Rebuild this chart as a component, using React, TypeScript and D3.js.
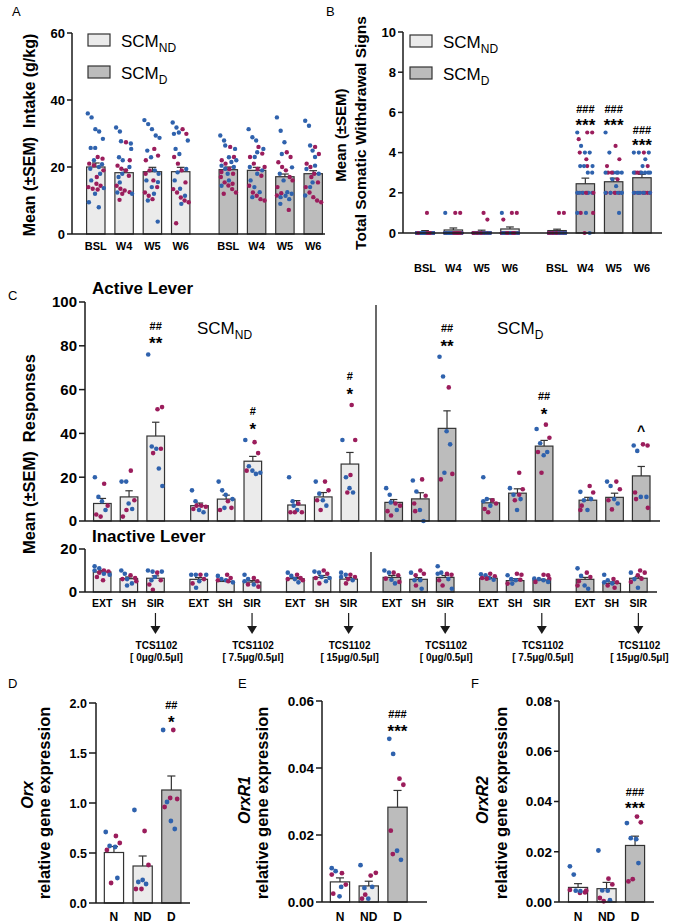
import React from 'react';
import * as d3 from 'd3';

const FONT = '"Liberation Sans", Arial, Helvetica, sans-serif';
const BLUE = '#2f62ad';
const RED = '#9b1d5c';
const FILL_N = '#ffffff';
const FILL_ND = '#ebebeb';
const FILL_D = '#bcbcbc';
const STROKE = '#333333';
const AXIS = '#1a1a1a';

// ---------- Panel A: intake ----------
const weekLabels = ['BSL', 'W4', 'W5', 'W6'];
const intakeMeanND = [20, 18.3, 18.6, 18.6];
const intakeSemND = [1.2, 1.0, 1.3, 1.3];
const intakeMeanD = [19.2, 19, 17.1, 18];
const intakeSemD = [0.8, 0.9, 0.8, 0.9];
const intakeBlueND = [
  [36, 34.8, 31.3, 30.6, 28.4, 25.7, 25.7, 22, 20.8, 20, 19.5, 18, 16, 13.7, 12, 9.5, 8],
  [31.8, 30.6, 27.7, 27, 25.4, 22.9, 22, 18, 17, 15.4, 12.4, 12, 20],
  [34, 32.8, 31.3, 29.4, 28.7, 24.9, 22.9, 19, 18, 16, 15.5, 14, 12, 10, 3.7],
  [33.3, 31.8, 30.3, 29.9, 27.9, 25.4, 23.9, 19.4, 18.4, 16, 13.5, 11.4, 9],
];
const intakeRedND = [
  [23, 22.5, 21, 20.5, 17, 14.4, 14, 13.5, 13.3, 15, 19],
  [27.4, 22, 20.4, 19.5, 19, 17.4, 14.4, 13.5, 13, 12.5, 12, 10.2],
  [25.4, 23.4, 22, 19, 16, 14, 12.4, 11.4, 10.4, 18],
  [31.3, 29.9, 23, 21, 19, 15.4, 13.4, 12.4, 10.9, 10, 9.5, 3.2],
];
const intakeBlueD = [
  [29.4, 27.9, 26.4, 25.4, 22.9, 22, 20.4, 20, 18, 16, 14.4, 19.5, 21.5],
  [31.3, 28.9, 27.9, 25.4, 24.4, 23, 20, 19, 18, 16, 14, 12.5, 11],
  [34.8, 30.8, 27.4, 23.9, 19.9, 18, 16, 12.5, 12, 11.4, 11, 10.4, 9],
  [33.8, 32.3, 26.4, 24.9, 23, 20.4, 19.4, 18, 15.4, 14, 11.5],
];
const intakeRedD = [
  [26, 23, 22, 21, 19.4, 18, 17, 15.4, 14.5, 13.4, 12.4, 12, 15, 18.5],
  [26, 24, 23, 21, 19.4, 17.4, 14.4, 12.4, 11.4, 10.4, 10, 20],
  [24.4, 23, 21.4, 20, 19, 17, 14, 12.2, 11.5, 7.2, 16],
  [26, 23.9, 21, 20, 18, 15.4, 14, 12.4, 11, 10, 9.5, 17],
];

// ---------- Panel B: withdrawal signs ----------
const wdMeanND = [0.05, 0.15, 0.07, 0.2];
const wdSemND = [0.07, 0.1, 0.07, 0.1];
const wdMeanD = [0.12, 2.45, 2.55, 2.75];
const wdSemD = [0.07, 0.28, 0.18, 0.17];
const wdBlueND = [
  [0, 0, 0, 0, 0, 0, 0, 0, 0, 0, 0, 0, 0, 0],
  [1, 0, 0, 0, 0, 0, 0, 0, 0, 0, 0, 0, 0, 0],
  [0, 0, 0, 0, 0, 0, 0, 0, 0, 0, 0, 0, 0, 0],
  [1, 0, 0, 0, 0, 0, 0, 0, 0, 0, 0, 0, 0, 0],
];
const wdRedND = [
  [1, 0, 0, 0, 0, 0, 0, 0, 0, 0, 0, 0, 0, 0],
  [1, 1, 0, 0, 0, 0, 0, 0, 0, 0, 0, 0, 0, 0],
  [1, 0.67, 0, 0, 0, 0, 0, 0, 0, 0, 0, 0, 0, 0],
  [1, 1, 0.67, 0, 0, 0, 0, 0, 0, 0, 0, 0, 0, 0],
];
const wdBlueD = [
  [0, 0, 0, 0, 0, 0, 0, 0, 0, 0, 0, 0, 0, 0],
  [5, 4.33, 4, 4, 3.33, 3.33, 3.33, 3, 3, 2, 2, 2, 2, 2, 1, 1, 0],
  [5, 4, 3, 3, 3, 3, 2.67, 2.33, 2, 2, 2, 2, 2, 1, 3],
  [4, 4, 4, 3.67, 3.33, 3, 3, 3, 3, 3, 2, 2, 2, 2, 2],
];
const wdRedD = [
  [1, 1, 0, 0, 0, 0, 0, 0, 0, 0, 0, 0, 0, 0],
  [5, 5, 4.67, 4, 3.67, 3.33, 2, 2, 2, 2, 1, 1, 0, 2],
  [4.33, 3.67, 3.33, 3, 2, 2, 2, 2, 2, 2.67, 3],
  [4, 3.33, 3, 3, 2, 2, 2, 2, 2, 2, 3],
];
const wdAnnot = [[], ['###', '***'], ['###', '***'], ['###', '***']];

// ---------- Panel C: lever responses ----------
const phaseLabels = ['EXT', 'SH', 'SIR'];
const cGroups = ['ND0', 'ND7.5', 'ND15', 'D0', 'D7.5', 'D15'];
const doseLabels = ['[ 0μg/0.5μl]', '[ 7.5μg/0.5μl]', '[ 15μg/0.5μl]', '[ 0μg/0.5μl]', '[ 7.5μg/0.5μl]', '[ 15μg/0.5μl]'];
const activeMean = [[8, 11, 38.8], [7, 10, 27.3], [7.3, 11, 26], [8.5, 10.1, 42.3], [8.3, 12.7, 34.2], [9.5, 10.8, 20.6]];
const activeSem = [[2.3, 2.8, 6.3], [1.2, 1.8, 2.2], [2, 2, 5.3], [1.3, 2.8, 8], [1.8, 2, 2.6], [1.3, 1.9, 4.3]];
const activeBlue = [
  [[20, 11, 9, 5], [18, 18, 8, 5.5], [76, 34, 33, 24, 16]],
  [[14, 9, 5, 4], [18, 14, 12, 10, 6], [37, 25, 23, 21.5, 22]],
  [[20, 9, 7, 5], [18, 12.5, 9.5, 7], [37, 20, 15, 13]],
  [[15, 12, 8.5, 5], [18.5, 13.5, 5, 0], [75, 66, 41, 35, 22]],
  [[20, 10, 7, 9], [15, 12, 5, 10], [42, 35.5, 30, 31.5]],
  [[13.3, 9.5, 5, 10], [18, 16, 10, 8], [34.5, 32, 11, 11]],
];
const activeRed = [
  [[17, 7, 3, 2], [23, 9.5, 2, 5], [51, 52, 33, 31]],
  [[7, 6.5, 5.5, 7], [9, 6, 5], [36, 31, 23]],
  [[8, 4, 4, 4], [18, 14, 9.5, 5], [53, 37, 21, 13]],
  [[8, 7, 4.5, 2.5], [19, 11.5, 8, 4.5], [61, 21.5, 19]],
  [[9.5, 8, 5.5, 4], [22, 14.5, 12, 9.5], [44, 38, 31.5, 22]],
  [[16, 13, 7, 5], [18, 14.5, 9.5, 5.3], [35, 34.5, 13, 10, 6]],
];
const activeAnnot = [['##', '**'], ['#', '*'], ['#', '*'], ['##', '**'], ['##', '*'], ['^']];
const inactiveMean = [[9.3, 6.2, 6.4], [5.9, 4.9, 4.6], [6.2, 6.8, 6], [6.8, 5.9, 6.8], [6.4, 5.3, 5.6], [5.9, 4, 6.4]];
const inactiveSem = [[0.8, 0.8, 1.1], [0.8, 0.5, 0.7], [0.6, 0.9, 0.7], [0.9, 0.8, 0.9], [0.4, 0.9, 0.4], [0.9, 0.7, 0.7]];
const inactiveBlue = [
  [[12, 11, 10, 8.5, 8], [10, 8.5, 6, 4, 3], [10, 9.5, 9.5, 7, 5.5]],
  [[8, 8, 8, 5, 2], [7.5, 6, 5.5, 4.5], [8, 6, 5, 3.5]],
  [[9, 7.5, 6, 4.5], [9.5, 9, 7, 6.5, 5], [9, 8, 7, 5.5]],
  [[10, 9, 5.7, 4], [9, 5.5, 5.5, 1.5], [12, 9, 8.5, 6, 1.5]],
  [[8.2, 7.8, 6.5, 5.7], [7.8, 6, 5.5, 3.9], [6.2, 6, 5.5, 4.7]],
  [[11, 7.5, 3, 1.5], [8, 5.5, 4.5, 4], [9, 6, 2]],
];
const inactiveRed = [
  [[10, 9.5, 9, 7, 5.5], [7.8, 6.5, 6, 5], [9, 5.5, 3.5, 1]],
  [[8, 6, 4], [8, 6.5, 5.5, 5], [6.5, 5, 3.5, 2.5]],
  [[8, 6.5, 6, 5.5], [10, 8.5, 6.5, 4], [8, 7, 6, 4]],
  [[9, 7.8, 6.2, 4.7], [10, 8.5, 7.8, 3], [8.5, 8, 5.5, 3]],
  [[8.5, 7.3, 6.5, 6.2], [8.5, 8, 5.7, 3.9], [8, 7.8, 6.2, 4.7]],
  [[9, 7, 5, 3], [6, 4.5, 3, 2], [10, 9, 7.8, 6.2, 4.7]],
];

// ---------- Panels D-F: gene expression ----------
const geneGroups = ['N', 'ND', 'D'];
const geneFills = [FILL_N, FILL_ND, FILL_D];
const orxMean = [0.505, 0.37, 1.13];
const orxSem = [0.06, 0.1, 0.14];
const orxBlue = [[0.71, 0.57, 0.56, 0.25], [0.93, 0.21, 0.23, 0.19], [1.73, 1.01, 0.82, 0.74]];
const orxRed = [[0.67, 0.6, 0.53, 0.2], [0.72, 0.38, 0.14, 0.14], [1.73, 1.04, 0.96, 1.05]];
const orxAnnot = [[], [], ['##', '*']];
const r1Mean = [0.006, 0.0048, 0.0283];
const r1Sem = [0.0012, 0.0014, 0.005];
const r1Blue = [[0.0101, 0.0092, 0.0017, 0.0045], [0.011, 0.0042, 0.001, 0.0045], [0.0487, 0.0442, 0.0153, 0.0126]];
const r1Red = [[0.0086, 0.0052, 0.0025, 0.0082], [0.0079, 0.0087, 0.001, 0.0022], [0.0368, 0.035, 0.0213, 0.0143]];
const r1Annot = [[], [], ['###', '***']];
const r2Mean = [0.0058, 0.0053, 0.0225];
const r2Sem = [0.0015, 0.0025, 0.0037];
const r2Blue = [[0.0142, 0.0109, 0.0045, 0.0043], [0.0205, 0.0046, 0.0045, 0.0007], [0.0314, 0.0254, 0.025, 0.0155]];
const r2Red = [[0.0036, 0.0038, 0.0048, 0.0045], [0.0093, 0.007, 0.0016, 0.0003], [0.034, 0.0317, 0.0082, 0.0091]];
const r2Annot = [[], [], ['###', '***']];

// ---------- helpers ----------
type Pt = { v: number; c: string };
type Scale = d3.ScaleLinear<number, number>;

function interleave(blue: number[], red: number[]): Pt[] {
  const out: Pt[] = [];
  const n = Math.max(blue.length, red.length);
  for (let i = 0; i < n; i++) {
    if (i < blue.length) out.push({ v: blue[i], c: BLUE });
    if (i < red.length) out.push({ v: red[i], c: RED });
  }
  return out;
}

function swarm(pts: Pt[], y: Scale, cx: number, half: number, r: number) {
  const placed: { x: number; y: number; c: string }[] = [];
  const span = Math.max(0, half - r);
  const cands: number[] = [];
  const nC = Math.max(2, Math.round((2 * span) / 1.2));
  for (let k = 0; k <= nC; k++) cands.push(-span + (2 * span * k) / nC);
  pts.forEach((p, i) => {
    const py = y(p.v);
    const pref = (((i * 0.6180339887) % 1) * 2 - 1) * span;
    let best = pref;
    let bestCost = Infinity;
    for (const o of [pref, ...cands]) {
      let ov = 0;
      for (const q of placed) {
        const d = Math.hypot(q.x - (cx + o), q.y - py);
        if (d < 2 * r) ov += 2 * r - d;
      }
      const cost = ov * 10 + Math.abs(o - pref) * 0.3;
      if (cost < bestCost) {
        bestCost = cost;
        best = o;
      }
    }
    placed.push({ x: cx + best, y: py, c: p.c });
  });
  return placed;
}

type BarSpec = { key: string; cx: number; w: number; mean: number; sem: number; fill: string; pts: Pt[]; annot?: string[] };

function Bars({ bars, y, r, sw = 1.2, capFrac = 0.42, starOff = 12, hashOff = 25, starFs = 17, hashFs = 11 }:
  { bars: BarSpec[]; y: Scale; r: number; sw?: number; capFrac?: number; starOff?: number; hashOff?: number; starFs?: number; hashFs?: number }) {
  const base = y.range()[0];
  return (
    <g>
      {bars.map((b) => (
        <rect key={'r' + b.key} x={b.cx - b.w / 2} y={y(b.mean)} width={b.w} height={base - y(b.mean)}
          fill={b.fill} stroke={STROKE} strokeWidth={sw} />
      ))}
      {bars.map((b) => {
        const yt = y(b.mean);
        const ye = y(b.mean + b.sem);
        const cw = b.w * capFrac;
        return (
          <g key={'e' + b.key} stroke={STROKE} strokeWidth={sw}>
            <line x1={b.cx} x2={b.cx} y1={yt} y2={ye} />
            <line x1={b.cx - cw / 2} x2={b.cx + cw / 2} y1={ye} y2={ye} />
          </g>
        );
      })}
      {bars.map((b) =>
        swarm(b.pts, y, b.cx, b.w / 2 + 1, r).map((p, i) => (
          <circle key={b.key + 'p' + i} cx={p.x} cy={p.y} r={r} fill={p.c} />
        ))
      )}
      {bars.map((b) => {
        if (!b.annot || b.annot.length === 0) return null;
        const top = Math.min(y(d3.max(b.pts, (p) => p.v) ?? b.mean), y(b.mean + b.sem));
        const lines = b.annot;
        if (lines.length === 1) {
          const s = lines[0];
          return (
            <text key={'a' + b.key} x={b.cx} y={top - starOff + 7} textAnchor="middle" fontSize={14} fontWeight="bold">{s}</text>
          );
        }
        return (
          <g key={'a' + b.key} fontWeight="bold" textAnchor="middle">
            <text x={b.cx} y={top - hashOff + hashFs * 0.36} fontSize={hashFs}>{lines[0]}</text>
            <text x={b.cx} y={top - starOff + starFs * 0.58} fontSize={starFs}>{lines[1]}</text>
          </g>
        );
      })}
    </g>
  );
}

function YAxis({ x, y, ticks, fmt, fs, tl = 5, gap = 2 }: { x: number; y: Scale; ticks: number[]; fmt: (v: number) => string; fs: number; tl?: number; gap?: number }) {
  const [y0, y1] = y.range();
  return (
    <g>
      <line x1={x} x2={x} y1={y0} y2={y1} stroke={AXIS} strokeWidth={1.5} />
      {ticks.map((t) => (
        <g key={t}>
          <line x1={x - tl} x2={x} y1={y(t)} y2={y(t)} stroke={AXIS} strokeWidth={1.5} />
          <text x={x - tl - gap} y={y(t)} dy="0.36em" textAnchor="end" fontSize={fs} fontWeight="bold">{fmt(t)}</text>
        </g>
      ))}
    </g>
  );
}

function Legend({ x, y0, y1, tx }: { x: number; y0: number; y1: number; tx: number }) {
  return (
    <g>
      <rect x={x} y={y0} width={22} height={12} fill={FILL_ND} stroke={STROKE} strokeWidth={1.2} />
      <rect x={x} y={y1} width={22} height={12} fill={FILL_D} stroke={STROKE} strokeWidth={1.2} />
      <text x={tx} y={y0 + 13} fontSize={17}>SCM<tspan dy={5} fontSize={12}>ND</tspan></text>
      <text x={tx} y={y1 + 13} fontSize={17}>SCM<tspan dy={5} fontSize={12}>D</tspan></text>
    </g>
  );
}

export default function App() {
  // ----- A -----
  const yA = d3.scaleLinear().domain([0, 60]).range([234, 33]);
  const gA = d3.scaleBand<string>().domain(['ND', 'D']).range([72, 337]);
  const wA = d3.scaleBand<string>().domain(weekLabels).range([-56.6, 56.6]);
  const cA = (g: string, w: string) => (gA(g) as number) + gA.bandwidth() / 2 + (wA(w) as number) + wA.bandwidth() / 2;
  const barW_A = wA.bandwidth() * 0.65;
  const barsA: BarSpec[] = [
    ...weekLabels.map((w, i) => ({ key: 'aN' + i, cx: cA('ND', w), w: barW_A, mean: intakeMeanND[i], sem: intakeSemND[i], fill: FILL_ND, pts: interleave(intakeBlueND[i], intakeRedND[i]) })),
    ...weekLabels.map((w, i) => ({ key: 'aD' + i, cx: cA('D', w), w: barW_A, mean: intakeMeanD[i], sem: intakeSemD[i], fill: FILL_D, pts: interleave(intakeBlueD[i], intakeRedD[i]) })),
  ];

  // ----- B -----
  const yB = d3.scaleLinear().domain([0, 10]).range([233, 32]);
  const gB = d3.scaleBand<string>().domain(['ND', 'D']).range([401.5, 665.5]);
  const wB = d3.scaleBand<string>().domain(weekLabels).range([-56.6, 56.6]);
  const cB = (g: string, w: string) => (gB(g) as number) + gB.bandwidth() / 2 + (wB(w) as number) + wB.bandwidth() / 2;
  const barW_B = wB.bandwidth() * 0.65;
  const barsB: BarSpec[] = [
    ...weekLabels.map((w, i) => ({ key: 'bN' + i, cx: cB('ND', w), w: barW_B, mean: wdMeanND[i], sem: wdSemND[i], fill: FILL_ND, pts: interleave(wdBlueND[i], wdRedND[i]) })),
    ...weekLabels.map((w, i) => ({ key: 'bD' + i, cx: cB('D', w), w: barW_B, mean: wdMeanD[i], sem: wdSemD[i], fill: FILL_D, pts: interleave(wdBlueD[i], wdRedD[i]), annot: wdAnnot[i] })),
  ];

  // ----- C -----
  const yAct = d3.scaleLinear().domain([0, 100]).range([521, 302]);
  const yIn = d3.scaleLinear().domain([0, 20]).range([592, 549]);
  const gAct = d3.scaleBand<string>().domain(cGroups).range([80.5, 663.1]);
  const gIn = d3.scaleBand<string>().domain(cGroups).range([80.5, 660]);
  const ph = d3.scaleBand<string>().domain(phaseLabels).range([-40, 40]);
  const cC = (g: d3.ScaleBand<string>, grp: string, p: string) => (g(grp) as number) + g.bandwidth() / 2 + (ph(p) as number) + ph.bandwidth() / 2;
  const barW_C = ph.bandwidth() * 0.66;
  const barsAct: BarSpec[] = [];
  const barsIn: BarSpec[] = [];
  cGroups.forEach((grp, gi) => {
    phaseLabels.forEach((p, pi) => {
      const fill = gi < 3 ? FILL_ND : FILL_D;
      barsAct.push({ key: 'ca' + gi + pi, cx: cC(gAct, grp, p), w: barW_C, mean: activeMean[gi][pi], sem: activeSem[gi][pi], fill, pts: interleave(activeBlue[gi][pi], activeRed[gi][pi]), annot: pi === 2 ? activeAnnot[gi] : undefined });
      barsIn.push({ key: 'ci' + gi + pi, cx: cC(gIn, grp, p), w: barW_C, mean: inactiveMean[gi][pi], sem: inactiveSem[gi][pi], fill, pts: interleave(inactiveBlue[gi][pi], inactiveRed[gi][pi]) });
    });
  });

  // ----- D/E/F -----
  const geneBars = (key: string, x: d3.ScaleBand<string>, means: number[], sems: number[], blue: number[][], red: number[][], annot: string[][]): BarSpec[] =>
    geneGroups.map((g, i) => ({ key: key + i, cx: (x(g) as number) + x.bandwidth() / 2, w: x.bandwidth() * 0.67, mean: means[i], sem: sems[i], fill: geneFills[i], pts: interleave(blue[i], red[i]), annot: annot[i] }));
  const yD = d3.scaleLinear().domain([0, 2]).range([903, 703]);
  const xD = d3.scaleBand<string>().domain(geneGroups).range([99.6, 185.7]);
  const yE = d3.scaleLinear().domain([0, 0.06]).range([902, 701]);
  const xE = d3.scaleBand<string>().domain(geneGroups).range([325.6, 411.9]);
  const yF = d3.scaleLinear().domain([0, 0.08]).range([902, 701]);
  const xF = d3.scaleBand<string>().domain(geneGroups).range([563.8, 649.3]);
  const barsD = geneBars('d', xD, orxMean, orxSem, orxBlue, orxRed, orxAnnot);
  const barsE = geneBars('e', xE, r1Mean, r1Sem, r1Blue, r1Red, r1Annot);
  const barsF = geneBars('f', xF, r2Mean, r2Sem, r2Blue, r2Red, r2Annot);

  const f0 = d3.format('d');
  const f1 = d3.format('.1f');
  const f2 = d3.format('.2f');

  return (
    <svg width={685} height={924} style={{ position: 'absolute', left: 0, top: 0 }} fontFamily={FONT}>
      <rect width={685} height={924} fill="#fff" />

      {/* Panel A */}
      <text x={12} y={16} fontSize={13}>A</text>
      <text transform="translate(35,135) rotate(-90)" textAnchor="middle" fontSize={16} fontWeight="bold" style={{ whiteSpace: 'pre' }}>Mean (±SEM)  Intake (g/kg)</text>
      <Bars bars={barsA} y={yA} r={2.2} />
      <YAxis x={72} y={yA} ticks={[0, 20, 40, 60]} fmt={f0} fs={13} />
      <line x1={72} x2={325} y1={yA(0)} y2={yA(0)} stroke={AXIS} strokeWidth={1.5} />
      {barsA.map((b, i) => (
        <text key={'xa' + i} x={b.cx} y={250} textAnchor="middle" fontSize={11} fontWeight="bold">{weekLabels[i % 4]}</text>
      ))}
      <Legend x={88} y0={34} y1={66} tx={121} />

      {/* Panel B */}
      <text x={326} y={16} fontSize={13}>B</text>
      <text transform="translate(346,135) rotate(-90)" textAnchor="middle" fontSize={15} fontWeight="bold">Mean (±SEM)</text>
      <text transform="translate(366,133) rotate(-90)" textAnchor="middle" fontSize={15.5} fontWeight="bold">Total Somatic Withdrawal Signs</text>
      <Bars bars={barsB} y={yB} r={2.1} starOff={11} hashOff={23} />
      <YAxis x={403} y={yB} ticks={[0, 2, 4, 6, 8, 10]} fmt={f0} fs={13} />
      <line x1={403} x2={662} y1={yB(0)} y2={yB(0)} stroke={AXIS} strokeWidth={1.5} />
      {barsB.map((b, i) => (
        <text key={'xb' + i} x={b.cx} y={272} textAnchor="middle" fontSize={11} fontWeight="bold">{weekLabels[i % 4]}</text>
      ))}
      <Legend x={410} y0={35} y1={67} tx={443} />

      {/* Panel C */}
      <text x={8} y={300} fontSize={13}>C</text>
      <text x={92} y={294} fontSize={17} fontWeight="bold">Active Lever</text>
      <text x={92} y={542} fontSize={17} fontWeight="bold">Inactive Lever</text>
      <text transform="translate(35,454) rotate(-90)" textAnchor="middle" fontSize={16.5} fontWeight="bold" style={{ whiteSpace: 'pre' }}>Mean (±SEM)  Responses</text>
      <text x={197} y={334} fontSize={17}>SCM<tspan dy={5} fontSize={12}>ND</tspan></text>
      <text x={497} y={334} fontSize={17}>SCM<tspan dy={5} fontSize={12}>D</tspan></text>
      <line x1={376} x2={376} y1={305} y2={yAct(0)} stroke={AXIS} strokeWidth={1.3} />
      <line x1={371} x2={371} y1={552} y2={yIn(0)} stroke={AXIS} strokeWidth={1.3} />
      <Bars bars={barsAct} y={yAct} r={2.3} starOff={15} hashOff={29} />
      <Bars bars={barsIn} y={yIn} r={2.3} />
      <YAxis x={85} y={yAct} ticks={[0, 20, 40, 60, 80, 100]} fmt={f0} fs={15} tl={6} />
      <line x1={85} x2={660} y1={yAct(0)} y2={yAct(0)} stroke={AXIS} strokeWidth={1.5} />
      <YAxis x={85} y={yIn} ticks={[0, 20]} fmt={f0} fs={15} tl={6} />
      <line x1={85} x2={657} y1={yIn(0)} y2={yIn(0)} stroke={AXIS} strokeWidth={1.5} />
      {barsIn.map((b, i) => (
        <text key={'xc' + i} x={b.cx} y={607} textAnchor="middle" fontSize={10.5} fontWeight="bold">{phaseLabels[i % 3]}</text>
      ))}
      {cGroups.map((grp, gi) => {
        const x = cC(gIn, grp, 'SIR');
        return (
          <g key={'arr' + gi}>
            <line x1={x} x2={x} y1={613} y2={627} stroke={AXIS} strokeWidth={1.2} />
            <path d={`M${x - 5},626 L${x + 5},626 L${x},634 Z`} fill={AXIS} />
            <text x={x + 1} y={649} textAnchor="middle" fontSize={10} fontWeight="bold">TCS1102</text>
            <text x={x + 1} y={661} textAnchor="middle" fontSize={10} fontWeight="bold">{doseLabels[gi]}</text>
          </g>
        );
      })}

      {/* Panel D */}
      <text x={8} y={688} fontSize={13}>D</text>
      <text transform="translate(33,795) rotate(-90)" textAnchor="middle" fontSize={16} fontWeight="bold" fontStyle="italic">Orx</text>
      <text transform="translate(50,803) rotate(-90)" textAnchor="middle" fontSize={16.5} fontWeight="bold">relative gene expression</text>
      <Bars bars={barsD} y={yD} r={2.4} />
      <YAxis x={96} y={yD} ticks={[0, 0.5, 1, 1.5, 2]} fmt={f1} fs={12.5} tl={7} />
      <line x1={96} x2={190} y1={yD(0)} y2={yD(0)} stroke={AXIS} strokeWidth={1.5} />
      {barsD.map((b, i) => (
        <text key={'xd' + i} x={b.cx} y={921} textAnchor="middle" fontSize={12} fontWeight="bold">{geneGroups[i]}</text>
      ))}

      {/* Panel E */}
      <text x={238} y={688} fontSize={13}>E</text>
      <text transform="translate(250,800) rotate(-90)" textAnchor="middle" fontSize={16} fontWeight="bold" fontStyle="italic">OrxR1</text>
      <text transform="translate(268,803) rotate(-90)" textAnchor="middle" fontSize={16.5} fontWeight="bold">relative gene expression</text>
      <Bars bars={barsE} y={yE} r={2.4} />
      <YAxis x={322} y={yE} ticks={[0, 0.02, 0.04, 0.06]} fmt={f2} fs={13.5} tl={6} />
      <line x1={322} x2={427} y1={yE(0)} y2={yE(0)} stroke={AXIS} strokeWidth={1.5} />
      {barsE.map((b, i) => (
        <text key={'xe' + i} x={b.cx} y={921} textAnchor="middle" fontSize={12} fontWeight="bold">{geneGroups[i]}</text>
      ))}

      {/* Panel F */}
      <text x={471} y={688} fontSize={13}>F</text>
      <text transform="translate(488,800) rotate(-90)" textAnchor="middle" fontSize={16} fontWeight="bold" fontStyle="italic">OrxR2</text>
      <text transform="translate(507,803) rotate(-90)" textAnchor="middle" fontSize={16.5} fontWeight="bold">relative gene expression</text>
      <Bars bars={barsF} y={yF} r={2.4} />
      <YAxis x={559} y={yF} ticks={[0, 0.02, 0.04, 0.06, 0.08]} fmt={f2} fs={13.5} tl={5} />
      <line x1={559} x2={654} y1={yF(0)} y2={yF(0)} stroke={AXIS} strokeWidth={1.5} />
      {barsF.map((b, i) => (
        <text key={'xf' + i} x={b.cx} y={921} textAnchor="middle" fontSize={12} fontWeight="bold">{geneGroups[i]}</text>
      ))}
    </svg>
  );
}
